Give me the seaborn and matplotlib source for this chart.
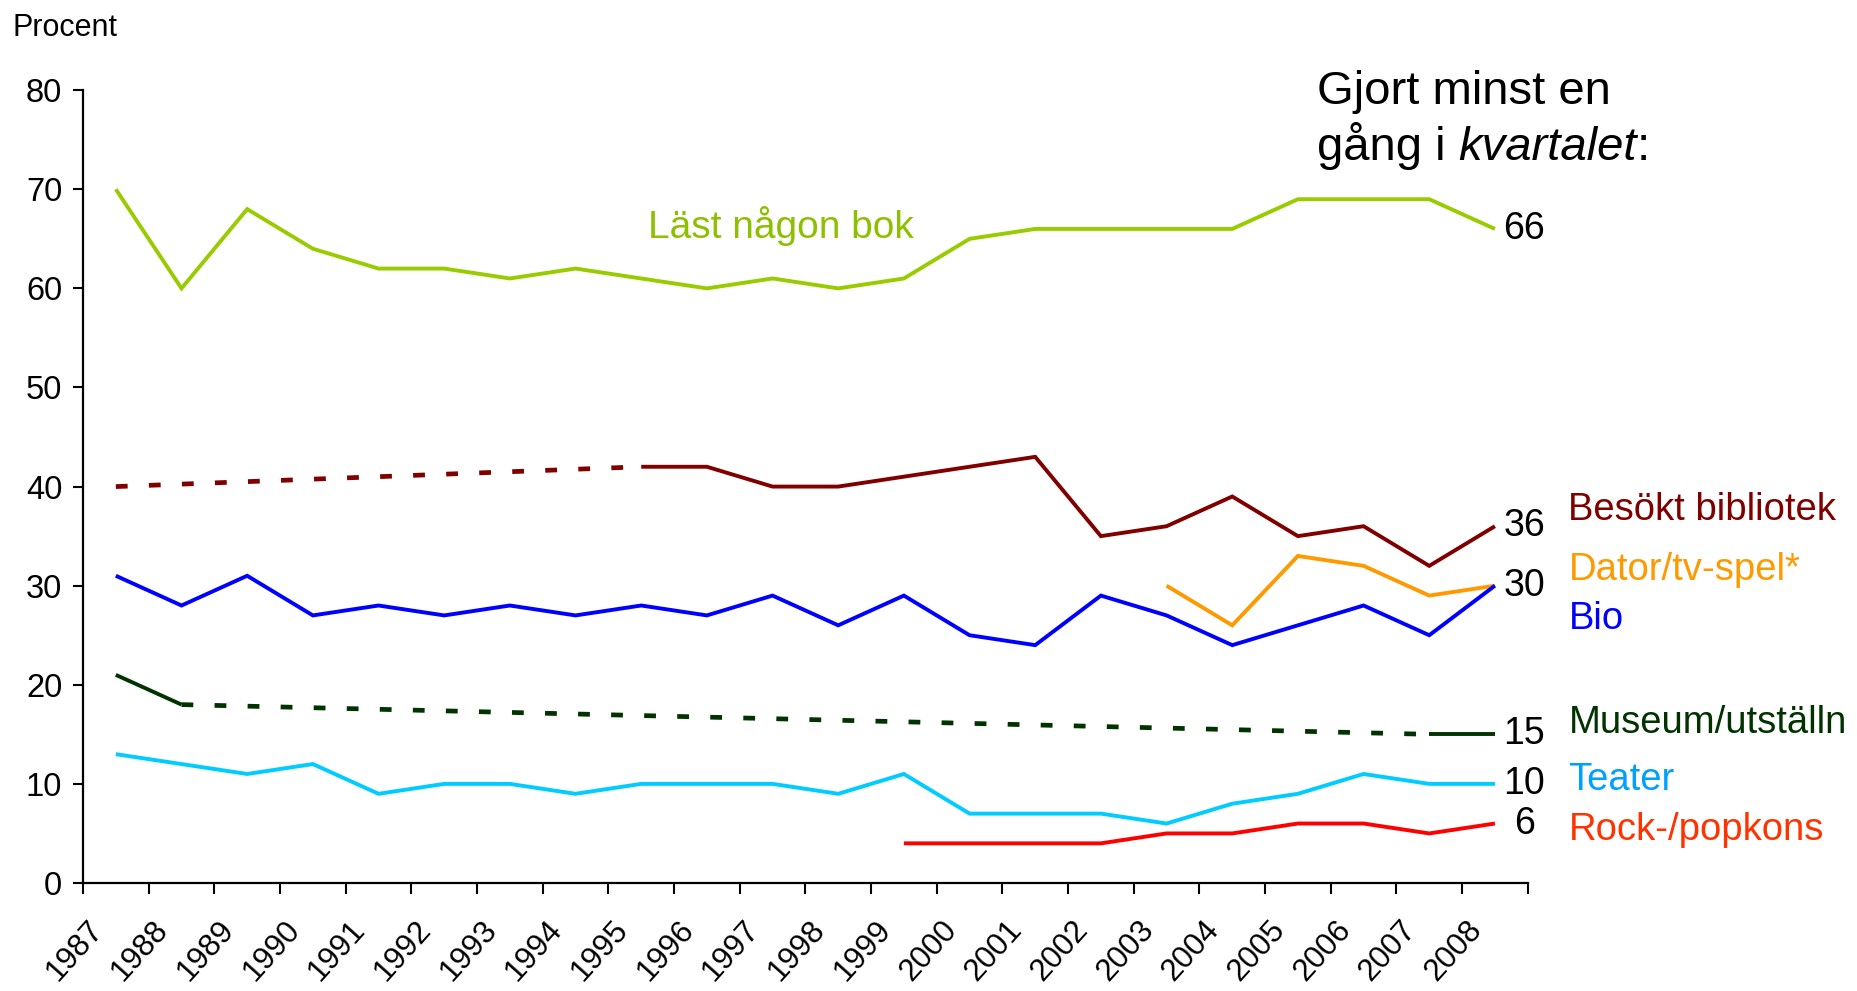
import numpy as np
import pandas as pd
import matplotlib
matplotlib.use("Agg")
import matplotlib.pyplot as plt
import matplotlib.transforms as mtransforms
import seaborn as sns

sns.set_style("white")
plt.rcParams['font.family'] = ['Liberation Sans', 'DejaVu Sans']
for k in ['text.color', 'axes.labelcolor', 'xtick.color', 'ytick.color', 'axes.edgecolor']:
    plt.rcParams[k] = 'black'

# data
years = list(range(1987, 2009))
bok = [70, 60, 68, 64, 62, 62, 61, 62, 61, 60, 61, 60, 61, 65, 66, 66, 66, 66, 69, 69, 69, 66]
bio = [31, 28, 31, 27, 28, 27, 28, 27, 28, 27, 29, 26, 29, 25, 24, 29, 27, 24, 26, 28, 25, 30]
teater = [13, 12, 11, 12, 9, 10, 10, 9, 10, 10, 10, 9, 11, 7, 7, 7, 6, 8, 9, 11, 10, 10]

bibl_years = list(range(1995, 2009))
bibl = [42, 42, 40, 40, 41, 42, 43, 35, 36, 39, 35, 36, 32, 36]
bibl_dot_years = [1987, 1995]
bibl_dot = [40, 42]

dator_years = list(range(2003, 2009))
dator = [30, 26, 33, 32, 29, 30]

rock_years = list(range(1999, 2009))
rock = [4, 4, 4, 4, 5, 5, 6, 6, 5, 6]

mus_years_a = [1987, 1988]
mus_a = [21, 18]
mus_dot_years = [1988, 2007]
mus_dot = [18, 15]
mus_years_b = [2007, 2008]
mus_b = [15, 15]

end_labels = [("66", 66), ("36", 36), ("30", 30), ("15", 15), ("10", 10), ("6", 6)]
names = [("Besökt bibliotek", 37.6, "#800000"),
         ("Dator/tv-spel*", 31.6, "#FF9900"),
         ("Bio", 26.6, "#0000FF"),
         ("Museum/utställn", 16.1, "#003300"),
         ("Teater", 10.4, "#00A0FF"),
         ("Rock-/popkons", 5.3, "#FF3300")]

fig = plt.figure(figsize=(18.57, 9.91), dpi=100)
ax = fig.add_axes([0.0447, 0.109, 0.778, 0.800])

lw = 2.8
dots = (0, (2.5, 4.5))

def draw(x, y, color, ls='-', w=lw):
    d = pd.DataFrame({'year': x, 'val': y})
    sns.lineplot(data=d, x='year', y='val', color=color, lw=w, ls=ls, ax=ax,
                 solid_capstyle='butt', solid_joinstyle='miter')

draw(years, bok, "#99CC00")
draw(bibl_dot_years, bibl_dot, "#800000", dots, 3.4)
draw(bibl_years, bibl, "#800000")
draw(dator_years, dator, "#FF9900")
draw(years, bio, "#0000FF")
draw(mus_years_a, mus_a, "#003300")
draw(mus_dot_years, mus_dot, "#003300", dots, 3.4)
draw(mus_years_b, mus_b, "#003300")
draw(years, teater, "#00CCFF")
draw(rock_years, rock, "#FF0000")

ax.set_xlim(1986.5, 2008.5)
ax.set_ylim(0, 80)
ax.set_xlabel("")
ax.set_ylabel("")

sns.despine(ax=ax)
for s in ['left', 'bottom']:
    ax.spines[s].set_linewidth(1.6)

ax.set_yticks(range(0, 81, 10))
ax.tick_params(axis='y', direction='out', length=7, width=1.5,
               labelsize=23.5, pad=8, left=True)

ax.set_xticks([y - 0.5 for y in years] + [2008.5])
ax.set_xticklabels([])
ax.tick_params(axis='x', direction='out', length=8, width=1.5, bottom=True)

# year labels, rotated
lab_tr = ax.get_xaxis_transform() + mtransforms.ScaledTranslation(-0.18, -0.42, fig.dpi_scale_trans)
for y in years:
    ax.text(y, 0, str(y), transform=lab_tr, fontsize=22.5, rotation=48,
            rotation_mode='anchor', ha='right', va='center')

# labels
ax.text(1997.13, 66.3, "Läst någon bok", color="#8DC000", fontsize=28,
        ha='center', va='center')
for txt, v in end_labels:
    ax.text(2008.45, v, txt, fontsize=27, ha='center', va='center')
for txt, v, c in names:
    ax.text(2009.12, v, txt, fontsize=27.5, color=c, ha='left', va='center')

fig.text(0.007, 0.964, "Procent", fontsize=22, va='baseline')
fig.text(0.709, 0.895, "Gjort minst en", fontsize=34, va='baseline')
t1 = fig.text(0.709, 0.839, "gång i ", fontsize=34, va='baseline')
t2 = ax.annotate("kvartalet", xy=(1, 0), xycoords=t1, fontsize=34, style='italic',
                 va='bottom', ha='left')
ax.annotate(":", xy=(1, 0), xycoords=t2, fontsize=34, va='bottom', ha='left')

fig.savefig("out.png", dpi=100, facecolor='white')
